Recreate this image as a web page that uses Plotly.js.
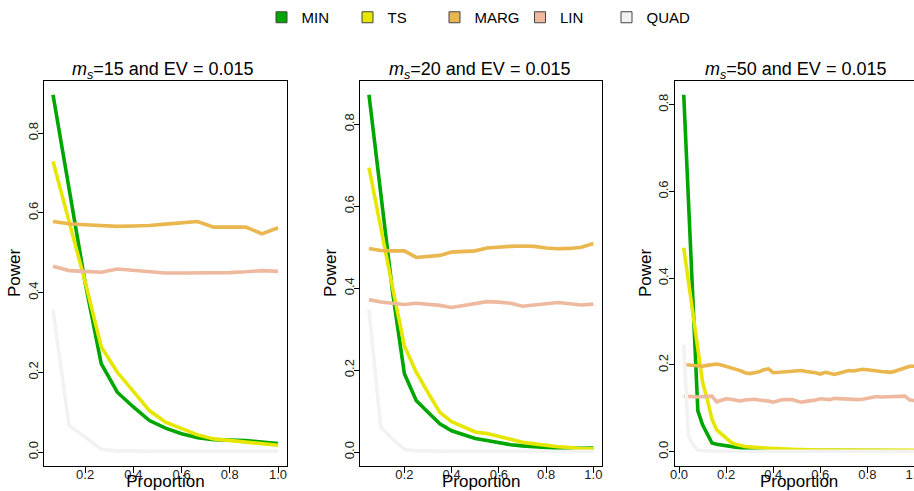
<!DOCTYPE html>
<html><head><meta charset="utf-8">
<script src="https://cdn.plot.ly/plotly-3.0.1.min.js"></script>
<style>html,body{margin:0;padding:0;overflow:hidden;background:#fff}</style>
</head><body><div id="chart" style="width:940px;height:491px"></div>
<script>
const methods = ["MIN", "TS", "MARG", "LIN", "QUAD"];
const colors = ["#00A600", "#E6E600", "#EAB64E", "#EEB99F", "#F2F2F2"];
const panelTitles = [
  "<i>m</i><sub><i>s</i></sub>=15 and EV = 0.015",
  "<i>m</i><sub><i>s</i></sub>=20 and EV = 0.015",
  "<i>m</i><sub><i>s</i></sub>=50 and EV = 0.015"
];

const prop15 = [0.0667,0.1333,0.2,0.2667,0.3333,0.4,0.4667,0.5333,0.6,0.6667,0.7333,0.8,0.8667,0.9333,1.0];
const prop20 = [0.05,0.1,0.15,0.2,0.25,0.3,0.35,0.4,0.45,0.5,0.55,0.6,0.65,0.7,0.75,0.8,0.85,0.9,0.95,1.0];
const prop50 = [0.02,0.04,0.06,0.08,0.1,0.12,0.14,0.16,0.18,0.2,0.22,0.24,0.26,0.28,0.3,0.32,0.34,0.36,0.38,0.4,
  0.42,0.44,0.46,0.48,0.5,0.52,0.54,0.56,0.58,0.6,0.62,0.64,0.66,0.68,0.7,0.72,0.74,0.76,0.78,0.8,
  0.82,0.84,0.86,0.88,0.9,0.92,0.94,0.96,0.98,1.0];

const min15  = [0.896,0.66,0.425,0.222,0.15,0.113,0.079,0.06,0.046,0.036,0.031,0.03,0.029,0.025,0.021];
const ts15   = [0.729,0.577,0.427,0.264,0.2,0.152,0.104,0.075,0.058,0.043,0.033,0.029,0.026,0.021,0.017];
const marg15 = [0.578,0.5725,0.57,0.5675,0.566,0.567,0.568,0.5715,0.575,0.578,0.564,0.564,0.564,0.547,0.5625];
const lin15  = [0.466,0.455,0.453,0.451,0.459,0.455,0.451,0.449,0.449,0.449,0.449,0.45,0.452,0.455,0.453];
const quad15 = [0.356,0.067,0.037,0.007,0.003,0.002,0.002,0.002,0.002,0.002,0.002,0.002,0.002,0.002,0.002];

const min20  = [0.872,0.624,0.39,0.191,0.126,0.097,0.069,0.052,0.043,0.033,0.028,0.022,0.018,0.015,0.012,0.011,0.009,0.008,0.009,0.01];
const ts20   = [0.694,0.544,0.401,0.259,0.195,0.145,0.097,0.074,0.062,0.049,0.045,0.038,0.03,0.024,0.02,0.016,0.013,0.011,0.008,0.008];
const marg20 = [0.497,0.492,0.491,0.491,0.475,0.477,0.48,0.488,0.489,0.491,0.498,0.501,0.502,0.503,0.502,0.498,0.496,0.497,0.5,0.509];
const lin20  = [0.372,0.366,0.363,0.36,0.363,0.361,0.358,0.353,0.357,0.361,0.367,0.366,0.363,0.356,0.359,0.363,0.365,0.362,0.359,0.361];
const quad20 = [0.347,0.061,0.032,0.006,0.003,0.002,0.002,0.002,0.002,0.002,0.002,0.002,0.002,0.002,0.002,0.002,0.002,0.002,0.002,0.002];

const min50  = [0.823,0.58,0.34,0.094,0.062,0.04,0.02,0.017,0.015,0.013,0.011,0.009,0.008,0.007,0.006,0.006,0.005,0.005,0.005,0.005,
  0.004,0.004,0.004,0.004,0.004,0.003,0.003,0.003,0.003,0.003,0.003,0.003,0.004,0.003,0.003,0.003,0.002,0.003,0.003,0.002,
  0.002,0.002,0.002,0.002,0.002,0.002,0.002,0.002,0.002,0.002];
const ts50   = [0.47,0.39,0.31,0.232,0.16,0.12,0.075,0.05,0.04,0.03,0.022,0.017,0.014,0.012,0.011,0.01,0.009,0.008,0.008,0.007,
  0.007,0.006,0.006,0.005,0.005,0.005,0.004,0.004,0.004,0.004,0.004,0.004,0.003,0.003,0.003,0.003,0.003,0.003,0.003,0.003,
  0.003,0.003,0.003,0.003,0.003,0.003,0.003,0.003,0.003,0.003];
const marg50 = [0.201,0.2,0.199,0.198,0.197,0.199,0.201,0.202,0.2,0.197,0.194,0.191,0.187,0.182,0.18,0.182,0.184,0.189,0.191,0.182,
  0.183,0.183,0.183,0.184,0.186,0.187,0.185,0.184,0.182,0.179,0.183,0.181,0.178,0.181,0.184,0.187,0.186,0.188,0.19,0.189,
  0.187,0.186,0.185,0.184,0.183,0.186,0.189,0.192,0.197,0.197];
const lin50  = [0.128,0.127,0.126,0.126,0.127,0.127,0.128,0.115,0.119,0.122,0.121,0.119,0.117,0.119,0.121,0.121,0.119,0.119,0.117,0.114,
  0.117,0.12,0.12,0.12,0.117,0.114,0.116,0.117,0.119,0.122,0.122,0.12,0.123,0.122,0.121,0.12,0.12,0.12,0.121,0.123,
  0.125,0.127,0.126,0.126,0.126,0.127,0.127,0.128,0.119,0.118];
const quad50 = [0.247,0.036,0.016,0.003,0.002,0.001,0.001,0.001,0.001,0.001,0.001,0.001,0.001,0.001,0.001,0.001,0.001,0.001,0.001,0.001,
  0.001,0.001,0.001,0.001,0.001,0.001,0.001,0.001,0.001,0.001,0.001,0.001,0.001,0.001,0.001,0.001,0.001,0.001,0.001,0.001,
  0.001,0.001,0.001,0.001,0.001,0.001,0.001,0.001,0.001,0.001];

const panels = [
  {x: prop15, series: [min15, ts15, marg15, lin15, quad15]},
  {x: prop20, series: [min20, ts20, marg20, lin20, quad20]},
  {x: prop50, series: [min50, ts50, marg50, lin50, quad50]}
];

const W = 940, H = 491;
const FONT = "Liberation Sans, Arial, Helvetica, sans-serif";
const xDomPx = [[44, 287], [360, 602.3], [674.5, 923.7]];
const titleCenters = [162, 480, 795.5];
const yDom = [1 - 465.5 / H, 1 - 80.5 / H];
const legendKeyCenters = [281.5, 367.5, 454.5, 540, 626.5];

function ext(arrs) {
  let lo = Infinity, hi = -Infinity;
  arrs.forEach(a => a.forEach(v => { if (v < lo) lo = v; if (v > hi) hi = v; }));
  const d = (hi - lo) * 0.04;
  return [lo - d, hi + d];
}

const traces = [];
const layout = {
  width: W, height: H,
  margin: {l: 0, r: 0, t: 0, b: 0},
  paper_bgcolor: "#fff", plot_bgcolor: "#fff",
  font: {family: FONT, color: "#000"},
  showlegend: true,
  annotations: []
};

panels.forEach((p, i) => {
  const sx = i === 0 ? "" : String(i + 1);
  p.series.forEach((s, j) => {
    traces.push({
      type: "scatter", mode: "lines", x: p.x, y: s,
      xaxis: "x" + sx, yaxis: "y" + sx,
      line: {color: colors[j], width: 3.6},
      showlegend: false, hoverinfo: "skip", name: methods[j]
    });
  });
  const xr = ext([p.x]);
  const yr = ext(p.series);
  layout["xaxis" + sx] = {
    domain: [xDomPx[i][0] / W, xDomPx[i][1] / W], anchor: "y" + sx,
    range: xr, dtick: 0.2, tick0: 0, tickformat: ".1f",
    showgrid: false, zeroline: false,
    showline: true, mirror: true, linecolor: "#000", linewidth: 1,
    ticks: "outside", ticklen: 6, tickcolor: "#000", tickwidth: 1,
    ticklabelstandoff: -9,
    tickfont: {family: FONT, size: 13, color: "#222"},
    title: {text: "Proportion", font: {family: FONT, size: 17, color: "#000"}, standoff: 0},
    automargin: false
  };
  layout["yaxis" + sx] = {
    domain: yDom, anchor: "x" + sx,
    range: yr, dtick: 0.2, tick0: 0, tickformat: ".1f",
    showgrid: false, zeroline: false,
    showline: true, mirror: true, linecolor: "#000", linewidth: 1,
    ticks: "outside", ticklen: 5, tickcolor: "#000", tickwidth: 1,
    tickangle: -90, ticklabelstandoff: -5,
    tickfont: {family: FONT, size: 13, color: "#222"},
    title: {text: "Power", font: {family: FONT, size: 17, color: "#000"}, standoff: 0},
    automargin: false
  };
  layout.annotations.push({
    text: panelTitles[i], xref: "paper", yref: "paper",
    x: titleCenters[i] / W, y: 1 - 71 / H,
    xanchor: "center", yanchor: "middle", showarrow: false,
    font: {family: FONT, size: 18, color: "#000"}
  });
});

methods.forEach((m, j) => {
  const lg = j === 0 ? "legend" : "legend" + (j + 1);
  layout[lg] = {
    orientation: "h", x: (legendKeyCenters[j] - 20) / W, xanchor: "left",
    y: 1 - 1 / H, yanchor: "top",
    font: {family: FONT, size: 15, color: "#000"},
    bgcolor: "rgba(0,0,0,0)", borderwidth: 0,
    itemclick: false, itemdoubleclick: false
  };
  traces.push({
    type: "scatter", mode: "markers", x: [null], y: [null],
    name: m, showlegend: true, legend: lg, hoverinfo: "skip",
    marker: {symbol: "square", size: 11, color: colors[j], line: {color: "#444", width: 1}}
  });
});

Plotly.newPlot("chart", traces, layout, {staticPlot: true, displayModeBar: false});
</script>
</body></html>
